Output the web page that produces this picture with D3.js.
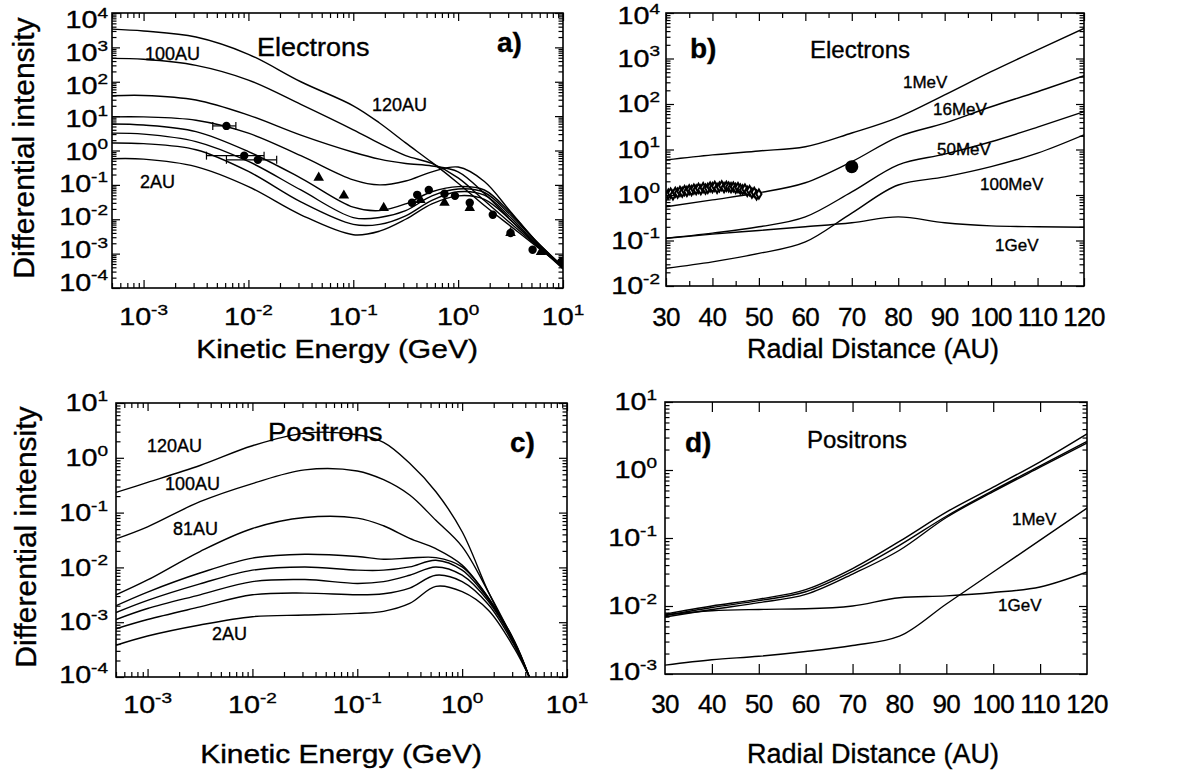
<!DOCTYPE html>
<html>
<head>
<meta charset="utf-8">
<script src="https://cdn.jsdelivr.net/npm/d3@7"></script>
<style>
body { margin: 0; background: #fff; }
svg text { font-family: "Liberation Sans", Arial, sans-serif; fill: #000; stroke: #000; stroke-width: 0.35px; }
</style>
</head>
<body>
<svg id="chart" width="1187" height="774"></svg>
<script>
// ---------- data ----------
var energyTicks = [1e-3, 1e-2, 1e-1, 1, 10];
var radialTicks = [30, 40, 50, 60, 70, 80, 90, 100, 110, 120];

// a) electron spectra, top curve 120AU ... bottom curve 2AU
var energyA = [5e-4, 1e-3, 3.16e-3, 1e-2, 3.16e-2, 0.1, 0.178, 0.316, 0.562, 1, 1.78, 3.16, 5.62, 10];
var elec1 = [3400, 3000, 2000, 630, 100, 20, 6.3, 1.66, 0.45, 0.112, 0.025, 0.0063, 0.0016, 0.0004];
var elec2 = [480, 450, 300, 112, 22, 4.0, 1.6, 0.71, 0.42, 0.16, 0.035, 0.0076, 0.0017, 0.0004];
var elec3 = [39, 40, 29.5, 10.7, 2.8, 0.89, 0.56, 0.42, 0.355, 0.24, 0.056, 0.0095, 0.0018, 0.0004];
var elec4 = [9.5, 9.5, 7.6, 3.2, 0.71, 0.14, 0.1, 0.13, 0.24, 0.33, 0.126, 0.0166, 0.0022, 0.00042];
var elec5 = [5.9, 5.5, 3.55, 0.93, 0.158, 0.0224, 0.0178, 0.028, 0.063, 0.089, 0.071, 0.0151, 0.0022, 0.00042];
var elec6 = [3.2, 3.0, 1.82, 0.48, 0.071, 0.0112, 0.0112, 0.0178, 0.048, 0.076, 0.06, 0.0132, 0.0021, 0.0004];
var elec7 = [1.66, 1.58, 1.05, 0.245, 0.032, 0.0071, 0.0071, 0.0126, 0.0355, 0.063, 0.05, 0.0112, 0.0019, 0.00038];
var elec8 = [0.575, 0.56, 0.34, 0.089, 0.0135, 0.00355, 0.0045, 0.01, 0.028, 0.048, 0.038, 0.0095, 0.0018, 0.00036];

// a) observations: circles [E, J], triangles [E, J], error bars [E, J, Elow, Ehigh]
var obsCircles = [[0.00617, 5.19], [0.00912, 0.708], [0.0123, 0.537], [0.363, 0.0302], [0.407, 0.0513],
  [0.525, 0.0708], [0.741, 0.055], [0.933, 0.0479], [1.29, 0.0302], [2.14, 0.0135], [3.16, 0.00398],
  [5.13, 0.00129], [9.6, 0.000575]];
var obsTriangles = [[0.0468, 0.162], [0.0813, 0.049], [0.195, 0.0214], [0.437, 0.0363], [0.741, 0.0302],
  [1.29, 0.0214], [3.16, 0.00398], [6.17, 0.00112]];
var obsErrors = [[0.00617, 5.19, 0.00457, 0.00759], [0.00912, 0.708, 0.00398, 0.0141], [0.0123, 0.537, 0.00617, 0.0186]];

// b) electrons versus radial distance
var radius = [30, 40, 50, 60, 70, 80, 90, 100, 110, 120];
var e1MeV = [5.9, 7.6, 9.3, 11.5, 23, 51, 158, 513, 1550, 4570];
var e16MeV = [0.55, 0.78, 1.12, 1.86, 5.4, 19, 38, 87, 186, 417];
var e50MeV = [0.112, 0.145, 0.2, 0.33, 1.17, 4.6, 7.9, 14.8, 31, 68];
var e100MeV = [0.0245, 0.034, 0.052, 0.093, 0.4, 1.66, 2.5, 4.2, 8.3, 21];
var e1GeV = [0.112, 0.138, 0.166, 0.2, 0.245, 0.33, 0.245, 0.21, 0.2, 0.195];
var voyagerR = [30, 30.5, 31, 31.5, 32, 32.5, 33, 33.5, 34, 34.5, 35, 35.5, 36, 36.5, 37, 37.5, 38, 38.5, 39, 39.5,
  40, 40.5, 41, 41.5, 42, 42.5, 43, 43.5, 44, 44.5, 45, 45.5, 46, 46.5, 47, 47.5, 48, 48.5, 49, 49.5, 50];
var voyagerJ = [0.95, 1.05, 1.1, 1.0, 1.15, 1.1, 1.2, 1.15, 1.25, 1.2, 1.3, 1.25, 1.35, 1.3, 1.4, 1.3, 1.45, 1.35, 1.4, 1.5,
  1.45, 1.55, 1.4, 1.5, 1.6, 1.45, 1.55, 1.5, 1.45, 1.5, 1.4, 1.45, 1.35, 1.3, 1.35, 1.2, 1.25, 1.1, 1.15, 1.0, 1.05];
var pointAt70 = [70, 4.2];

// c) positron spectra, top curve 120AU ... bottom curve 2AU
var energyC = [5e-4, 1e-3, 3.16e-3, 1e-2, 3.16e-2, 0.1, 0.178, 0.316, 0.562, 1, 1.78, 3.16, 4.37];
var posi1 = [0.234, 0.355, 0.724, 1.66, 2.82, 2.63, 1.91, 0.794, 0.24, 0.0447, 0.00355, 0.0004, 0.0001];
var posi2 = [0.0331, 0.055, 0.158, 0.339, 0.603, 0.575, 0.398, 0.209, 0.0724, 0.024, 0.00355, 0.00042, 0.0001];
var posi3 = [0.00316, 0.0059, 0.0195, 0.0513, 0.0813, 0.0794, 0.0575, 0.0339, 0.0219, 0.011, 0.00275, 0.00044, 0.0001];
var posi4 = [0.002, 0.00355, 0.0079, 0.0148, 0.0174, 0.0158, 0.0141, 0.0148, 0.0151, 0.0102, 0.0028, 0.00045, 0.0001];
var posi5 = [0.0015, 0.0025, 0.005, 0.0089, 0.0102, 0.0089, 0.0089, 0.0102, 0.0135, 0.0089, 0.0026, 0.00042, 0.0001];
var posi6 = [0.00112, 0.00178, 0.00316, 0.0055, 0.006, 0.0051, 0.0055, 0.0072, 0.0102, 0.0072, 0.0024, 0.0004, 0.0001];
var posi7 = [0.00076, 0.00112, 0.0019, 0.00316, 0.0034, 0.00316, 0.0033, 0.0042, 0.0072, 0.0055, 0.0021, 0.00037, 0.0001];
var posi8 = [0.00038, 0.00056, 0.00089, 0.00126, 0.00135, 0.00145, 0.00158, 0.0022, 0.0045, 0.0036, 0.00166, 0.00033, 0.0001];

// d) positrons versus radial distance
var pTopA = [0.0076, 0.01, 0.0126, 0.0174, 0.0355, 0.089, 0.24, 0.56, 1.32, 3.4];
var pTopB = [0.0072, 0.0095, 0.012, 0.0162, 0.0324, 0.078, 0.209, 0.5, 1.15, 2.63];
var pTopC = [0.0069, 0.0089, 0.0112, 0.0148, 0.0295, 0.066, 0.2, 0.48, 1.1, 2.5];
var p1GeV = [0.0074, 0.0085, 0.0089, 0.0091, 0.01, 0.0132, 0.0141, 0.0158, 0.019, 0.0316];
var p1MeV = [0.00135, 0.00162, 0.00182, 0.00214, 0.00263, 0.0036, 0.0107, 0.0316, 0.093, 0.275];

// ---------- drawing ----------
var svg = d3.select("#chart");
var defs = svg.append("defs");

function zipXY(xs, ys) { return xs.map(function (v, i) { return [v, ys[i]]; }); }

function decadeVals(lo, hi) {
  var out = [];
  for (var k = Math.round(Math.log10(lo)); k <= Math.round(Math.log10(hi)); k++) out.push(Math.pow(10, k));
  return out;
}
function minorVals(lo, hi) {
  var out = [];
  for (var k = Math.floor(Math.log10(lo)); k < Math.ceil(Math.log10(hi)); k++)
    for (var m = 2; m < 10; m++) {
      var v = m * Math.pow(10, k);
      if (v >= lo && v <= hi) out.push(v);
    }
  return out;
}

function axisSet(g, x, y, side, vals, len) {
  var ax, tr;
  if (side === "bottom") { ax = d3.axisBottom(x); tr = "translate(0," + y.range()[0] + ")"; }
  if (side === "top") { ax = d3.axisTop(x); tr = "translate(0," + y.range()[1] + ")"; }
  if (side === "left") { ax = d3.axisLeft(y); tr = "translate(" + x.range()[0] + ",0)"; }
  if (side === "right") { ax = d3.axisRight(y); tr = "translate(" + x.range()[1] + ",0)"; }
  var a = g.append("g").attr("transform", tr)
    .call(ax.tickValues(vals).tickSize(-len).tickSizeOuter(0).tickFormat(""));
  a.select(".domain").remove();
  a.selectAll("line").attr("stroke", "#000").attr("stroke-width", 1.2);
}

// text placed with a horizontal stretch, like the scanned original
function stext(g, x, y, size, sx, anchor) {
  return g.append("text").attr("transform", "translate(" + x + "," + y + ") scale(" + sx + ",1)")
    .attr("text-anchor", anchor || "start").style("font-size", size + "px");
}

function powText(sel, exp, size) {
  sel.append("tspan").text("10");
  sel.append("tspan").attr("dy", -size * 0.45).style("font-size", (size * 0.66) + "px").text(exp);
}

function makePanel(id, x, y) {
  var g = svg.append("g");
  var x0 = x.range()[0], x1 = x.range()[1], yb = y.range()[0], yt = y.range()[1];
  defs.append("clipPath").attr("id", "clip-" + id).append("rect")
    .attr("x", x0).attr("y", yt).attr("width", x1 - x0).attr("height", yb - yt);
  g.append("rect").attr("x", x0).attr("y", yt).attr("width", x1 - x0).attr("height", yb - yt)
    .attr("fill", "none").attr("stroke", "#000").attr("stroke-width", 1.6);
  g.plot = g.append("g").attr("clip-path", "url(#clip-" + id + ")");
  return g;
}

function drawCurves(g, x, y, xs, list, curve) {
  var line = d3.line().x(function (d) { return x(d[0]); }).y(function (d) { return y(d[1]); })
    .curve(curve || d3.curveMonotoneX);
  g.plot.selectAll(null).data(list).enter().append("path")
    .attr("d", function (ys) { return line(zipXY(xs, ys)); })
    .attr("fill", "none").attr("stroke", "#000").attr("stroke-width", 1.4);
}

// y labels: centre of the digits at pos(d)
function yLabels(g, pos, xRight, vals, size, sx) {
  vals.forEach(function (d) {
    var t = stext(g, xRight, pos(d) + size * 0.36, size, sx, "end");
    powText(t, Math.round(Math.log10(d)), size);
  });
}

function xLogLabels(g, x, base, vals, size, sx) {
  vals.forEach(function (d) {
    var t = stext(g, x(d), base, size, sx, "middle");
    powText(t, Math.round(Math.log10(d)), size);
  });
}

function xLinLabels(g, x, base, vals, size) {
  vals.forEach(function (d) {
    stext(g, x(d), base, size, 1, "middle").style("letter-spacing", "-0.6px").text(d);
  });
}

function note(g, x, y, str, size, bold, sx, anchor) {
  stext(g, x, y, size, sx || 1, anchor).style("font-weight", bold ? "bold" : "normal").text(str);
}

function yTitle(g, cx, cy, str, size) {
  g.append("text").attr("transform", "translate(" + cx + "," + cy + ") rotate(-90)")
    .attr("text-anchor", "middle").style("font-size", size + "px").text(str);
}

function logTicks(g, x, y, xMajor, xMinor, yLo, yHi, xLen) {
  var yMaj = decadeVals(yLo, yHi), yMin = minorVals(yLo, yHi);
  axisSet(g, x, y, "left", yMaj, 8); axisSet(g, x, y, "left", yMin, 4.5);
  axisSet(g, x, y, "right", yMaj, 8); axisSet(g, x, y, "right", yMin, 4.5);
  axisSet(g, x, y, "bottom", xMajor, xLen); axisSet(g, x, y, "top", xMajor, xLen);
  if (xMinor.length) { axisSet(g, x, y, "bottom", xMinor, 5); axisSet(g, x, y, "top", xMinor, 5); }
}

var TICK = 23, TSX = 1.25;
var smooth = d3.curveCatmullRom.alpha(0.5);

// ----- panel a -----
var xA = d3.scaleLog().domain([5e-4, 10]).range([112, 563]);
var yA = d3.scaleLog().domain([1e-4, 1e4]).range([288, 13]);
var gA = makePanel("a", xA, yA);
logTicks(gA, xA, yA, energyTicks, minorVals(5e-4, 10), 1e-4, 1e4, 8);
drawCurves(gA, xA, yA, energyA, [elec1, elec2, elec3, elec4, elec5, elec6, elec7, elec8], smooth);
gA.plot.selectAll(null).data(obsErrors).enter().append("g").each(function (d) {
  var s = d3.select(this), yy = yA(d[1]);
  s.append("line").attr("x1", xA(d[2])).attr("x2", xA(d[3])).attr("y1", yy).attr("y2", yy);
  s.append("line").attr("x1", xA(d[2])).attr("x2", xA(d[2])).attr("y1", yy - 4).attr("y2", yy + 4);
  s.append("line").attr("x1", xA(d[3])).attr("x2", xA(d[3])).attr("y1", yy - 4).attr("y2", yy + 4);
  s.selectAll("line").attr("stroke", "#000").attr("stroke-width", 1.2);
});
gA.plot.selectAll(null).data(obsCircles).enter().append("circle")
  .attr("cx", function (d) { return xA(d[0]); }).attr("cy", function (d) { return yA(d[1]); })
  .attr("r", 4.2).attr("fill", "#000");
gA.plot.selectAll(null).data(obsTriangles).enter().append("path")
  .attr("transform", function (d) { return "translate(" + xA(d[0]) + "," + yA(d[1]) + ")"; })
  .attr("d", d3.symbol(d3.symbolTriangle).size(48)).attr("fill", "#000");
// the labels of this axis sit slightly off their ticks in the original
var labelShiftA = d3.scaleLinear().domain([4, -4]).range([7, -5.5]);
yLabels(gA, function (d) { return yA(d) + labelShiftA(Math.log10(d)); }, 108, decadeVals(1e-4, 1e4), TICK, TSX);
xLogLabels(gA, xA, 325, energyTicks, TICK, TSX);
note(gA, 145, 60, "100AU", 18);
note(gA, 257, 56, "Electrons", 25, false, 1.08);
note(gA, 372, 111, "120AU", 18);
note(gA, 140, 188, "2AU", 18);
note(gA, 497, 52, "a)", 28, true);
note(gA, 337, 358, "Kinetic Energy (GeV)", 25, false, 1.2, "middle");
yTitle(gA, 34, 148, "Differential intensity", 30);

// ----- panel b -----
var xB = d3.scaleLinear().domain([30, 120]).range([666, 1084]);
var yB = d3.scaleLog().domain([1e-2, 1e4]).range([286, 13]);
var gB = makePanel("b", xB, yB);
logTicks(gB, xB, yB, radialTicks, d3.range(35, 120, 10), 1e-2, 1e4, 8);
drawCurves(gB, xB, yB, radius, [e1MeV, e16MeV, e50MeV, e100MeV, e1GeV]);
gB.plot.selectAll(null).data(zipXY(voyagerR, voyagerJ)).enter().append("path")
  .attr("transform", function (d) { return "translate(" + xB(d[0]) + "," + yB(d[1]) + ")"; })
  .attr("d", d3.symbol(d3.symbolDiamond).size(24))
  .attr("fill", "#fff").attr("stroke", "#000").attr("stroke-width", 2);
gB.plot.append("circle").attr("cx", xB(pointAt70[0])).attr("cy", yB(pointAt70[1])).attr("r", 6.5).attr("fill", "#000");
yLabels(gB, function (d) { return Math.max(yB(d), 16); }, 660, decadeVals(1e-2, 1e4), TICK, TSX);
xLinLabels(gB, xB, 326, radialTicks, 26);
note(gB, 690, 58, "b)", 28, true);
note(gB, 810, 58, "Electrons", 24);
note(gB, 903, 88, "1MeV", 17);
note(gB, 933, 115, "16MeV", 17);
note(gB, 937, 155, "50MeV", 17);
note(gB, 980, 190, "100MeV", 17);
note(gB, 995, 251, "1GeV", 17);
note(gB, 873, 358, "Radial Distance (AU)", 27, false, 1, "middle");

// ----- panel c -----
var xC = d3.scaleLog().domain([5e-4, 10]).range([116, 567]);
var yC = d3.scaleLog().domain([1e-4, 10]).range([677, 403]);
var gC = makePanel("c", xC, yC);
logTicks(gC, xC, yC, energyTicks, minorVals(5e-4, 10), 1e-4, 10, 8);
drawCurves(gC, xC, yC, energyC, [posi1, posi2, posi3, posi4, posi5, posi6, posi7, posi8], smooth);
yLabels(gC, function (d) { return Math.min(yC(d), 675); }, 108, decadeVals(1e-4, 10), TICK, TSX);
xLogLabels(gC, xC, 713, energyTicks, TICK, TSX);
note(gC, 147, 452, "120AU", 18);
note(gC, 165, 490, "100AU", 18);
note(gC, 173, 535, "81AU", 18);
note(gC, 212, 640, "2AU", 18);
note(gC, 268, 441, "Positrons", 25, false, 1.1);
note(gC, 510, 452, "c)", 28, true);
note(gC, 341, 763, "Kinetic Energy (GeV)", 25, false, 1.2, "middle");
yTitle(gC, 36, 537, "Differential intensity", 30);

// ----- panel d -----
var xD = d3.scaleLinear().domain([30, 120]).range([665, 1087]);
var yD = d3.scaleLog().domain([1e-3, 10]).range([674, 402]);
var gD = makePanel("d", xD, yD);
logTicks(gD, xD, yD, radialTicks.slice(1, -1), [], 1e-3, 10, 10);
drawCurves(gD, xD, yD, radius, [pTopA, pTopB, pTopC, p1GeV, p1MeV]);
yLabels(gD, function (d) { return Math.min(yD(d), 672); }, 657, decadeVals(1e-3, 10), TICK, TSX);
xLinLabels(gD, xD, 713, radialTicks, 26);
note(gD, 685, 452, "d)", 28, true);
note(gD, 807, 448, "Positrons", 24);
note(gD, 1012, 525, "1MeV", 17);
note(gD, 998, 611, "1GeV", 17);
note(gD, 873, 763, "Radial Distance (AU)", 27, false, 1, "middle");
</script>
</body>
</html>
